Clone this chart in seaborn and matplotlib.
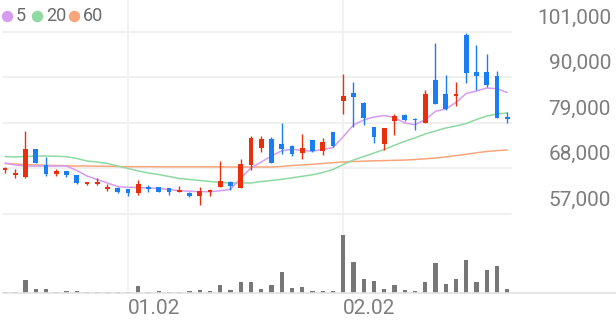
import numpy as np
import pandas as pd
import matplotlib
matplotlib.use("Agg")
import matplotlib.pyplot as plt
from matplotlib.lines import Line2D
import seaborn as sns

# ---------------- data ----------------
day_index = list(range(50))
opens = [67640, 66430, 66020, 72710, 68850, 66600, 67320, 66360, 64250, 64330,
         63040, 63360, 62970, 62000, 63600, 63450, 63210, 62390, 62150, 61350,
         62320, 63600, 64810, 63360, 68850, 72880, 75060, 73920, 73440, 71670,
         74890, 72230, 76750, 84320, 86180, 83910, 77960, 73850, 79560, 81010,
         80040, 79000, 89470, 86010, 85600, 100200, 91330, 91330, 90290, 80380]
highs = [68440, 67800, 77140, 72830, 70710, 67810, 67400, 66440, 64670, 65700,
         64250, 63450, 63040, 65220, 64010, 63530, 63290, 63770, 62390, 63600,
         62970, 69810, 64900, 70220, 75930, 75860, 75540, 79070, 73610, 76340,
         74970, 75300, 76820, 90850, 88840, 83960, 78110, 77790, 81180, 81100,
         80140, 86900, 98340, 90680, 88840, 100760, 97930, 95680, 91500, 81660]
lows = [66840, 65630, 65630, 69330, 66190, 66260, 65870, 64250, 64090, 63940,
        62490, 62080, 61420, 61590, 62390, 62250, 61590, 62250, 61040, 59180,
        61350, 63450, 62800, 63210, 67640, 72060, 69260, 71500, 71090, 70300,
        72060, 71260, 73270, 81100, 78110, 78400, 74090, 72470, 76100, 79560,
        77380, 78880, 83520, 82220, 83040, 88670, 86900, 87630, 80140, 79000]
closes = [68050, 66840, 72640, 69400, 66600, 67470, 66360, 64420, 64570, 64810,
          63600, 62250, 62000, 64250, 63040, 62320, 62390, 62800, 61420, 62490,
          62630, 64980, 63770, 69020, 75450, 75060, 69400, 72640, 71430, 73030,
          72230, 74480, 73440, 85530, 85360, 80140, 75540, 77720, 80620, 79800,
          79650, 86010, 83590, 82380, 86010, 91090, 90430, 88260, 80210, 79970]
ma5 = [69260, 68850, 68600, 68600, 68600, 68600, 68600, 67520, 66190, 65340,
       64490, 63650, 63460, 63410, 63290, 63170, 62920, 62630, 62510, 62390,
       62390, 62630, 62970, 65700, 68120, 69570, 71020, 72300, 72640, 72350,
       72160, 72640, 73030, 75690, 78520, 79730, 80450, 80810, 80330, 79000,
       78590, 79800, 81830, 82380, 83960, 86130, 86740, 87460, 87290, 86370]
ma20 = [70900, 70780, 70900, 71020, 71020, 70970, 70850, 70420, 69810, 69570,
        69210, 68600, 68000, 67400, 66910, 66550, 66070, 65580, 65340, 65100,
        64860, 64620, 64490, 64490, 64490, 64860, 65100, 65390, 65750, 66110,
        66480, 67030, 67760, 68970, 70060, 70900, 71750, 72590, 73610, 74580,
        75420, 76340, 77070, 77790, 78280, 78880, 79850, 80690, 81180, 81420]
ma60 = [69260, 69090, 68920, 68850, 68770, 68730, 68680, 68600, 68600, 68560,
        68530, 68480, 68440, 68440, 68440, 68410, 68410, 68410, 68410, 68410,
        68390, 68390, 68360, 68360, 68360, 68360, 68360, 68480, 68730, 68850,
        69020, 69210, 69400, 69570, 69690, 69770, 69860, 69910, 69980, 70030,
        70180, 70340, 70540, 70800, 71120, 71430, 71800, 72110, 72330, 72470]
volume = [10000, 10000, 127000, 37000, 37000, 10000, 17000, 23000, 10000, 13000,
          13000, 13000, 13000, 70000, 7000, 17000, 7000, 13000, 17000, 27000,
          23000, 77000, 33000, 107000, 107000, 40000, 77000, 210000, 50000, 63000,
          23000, 23000, 23000, 577000, 310000, 143000, 120000, 43000, 77000, 30000,
          23000, 110000, 297000, 90000, 137000, 327000, 107000, 233000, 267000, 43000]
price_ticks = [101000, 90000, 79000, 68000, 57000]
price_tick_labels = ["101,000", "90,000", "79,000", "68,000", "57,000"]
date_tick_pos = [12, 33]
date_tick_labels = ["01.02", "02.02"]
ma_labels = ["5", "20", "60"]

# ---------------- style ----------------
RED = "#e8300e"
BLUE = "#1a7ef2"
C5, C20, C60 = "#d79cf0", "#8fd9a2", "#f9a57c"
GRID = "#eeeeee"
TXT = "#7d7d7d"

sns.set_theme(style="white")
plt.rcParams['font.family'] = ['Roboto', 'DejaVu Sans']

W, H = 616, 321
fig = plt.figure(figsize=(W / 100, H / 100), dpi=100)
fig.patch.set_facecolor("white")


def px_rect(x0, y0, x1, y1):
    return [x0 / W, 1 - y1 / H, (x1 - x0) / W, (y1 - y0) / H]


ax = fig.add_axes(px_rect(3, 0, 511, 214))
axv = fig.add_axes(px_rect(3, 214, 511, 293))

df = pd.DataFrame(dict(day=day_index, open=opens, high=highs, low=lows,
                       close=closes, volume=volume, ma5=ma5, ma20=ma20, ma60=ma60))

x0, x1 = -0.195, 49.366
ax.set_xlim(x0, x1)
axv.set_xlim(x0, x1)
ax.set_ylim(57000, 108736)
axv.set_ylim(0, 790000)

for a in (ax, axv):
    a.set_axis_off()

# grid
for v in price_ticks:
    ax.axhline(v, color=GRID, lw=1.2, zorder=0, clip_on=False)
for p in date_tick_pos:
    ax.axvline(p, color="#f0f0f0", lw=1.2, zorder=0)
    axv.axvline(p, color="#f0f0f0", lw=1.2, zorder=0)

# moving averages
for col, c in (("ma60", C60), ("ma20", C20), ("ma5", C5)):
    sns.lineplot(data=df, x="day", y=col, color=c, lw=1.1, ax=ax, zorder=2, legend=False)
ax.set_axis_off()

# candles
up = df["close"] >= df["open"]
colors = np.where(up, RED, BLUE)
ax.vlines(df["day"], df["low"], df["high"], colors=colors, lw=1.0, zorder=3)
body_bottom = np.minimum(df["open"], df["close"])
body_h = np.maximum(np.abs(df["close"] - df["open"]), 380)
ax.bar(df["day"], body_h, bottom=body_bottom, width=0.48, color=colors,
       linewidth=0, zorder=4)

# volume
axv.bar(df["day"], df["volume"], width=0.42, color="#777777", linewidth=0, zorder=2)

# baseline
fig.add_artist(Line2D([3 / W, 1.0], [1 - 293 / H, 1 - 293 / H], color="#e2e2e2", lw=1.2))

# y labels
for v, lab in zip(price_ticks, price_tick_labels):
    ax.annotate(lab, xy=(1, v), xycoords=("axes fraction", "data"),
                xytext=(100, 14), textcoords="offset pixels",
                ha="right", va="center", fontsize=15, color=TXT, annotation_clip=False)

# x labels
for p, lab in zip(date_tick_pos, date_tick_labels):
    axv.annotate(lab, xy=(p, 0), xycoords=("data", "axes fraction"),
                 xytext=(0, -16), textcoords="offset pixels",
                 ha="left", va="center", fontsize=15, color=TXT, annotation_clip=False)

# legend
leg_marks = [6.7, 36.7, 74]
leg_text = [16, 46.5, 83]
for mx, tx, c, lab in zip(leg_marks, leg_text, (C5, C20, C60), ma_labels):
    fig.add_artist(Line2D([mx / W], [1 - 16 / H], marker="o", markersize=7.2,
                          color=c, linestyle="none"))
    fig.text(tx / W, 1 - 16 / H, lab, ha="left", va="center", fontsize=13, color="#6a6a6a")

fig.savefig("out.png", dpi=100, facecolor="white")
